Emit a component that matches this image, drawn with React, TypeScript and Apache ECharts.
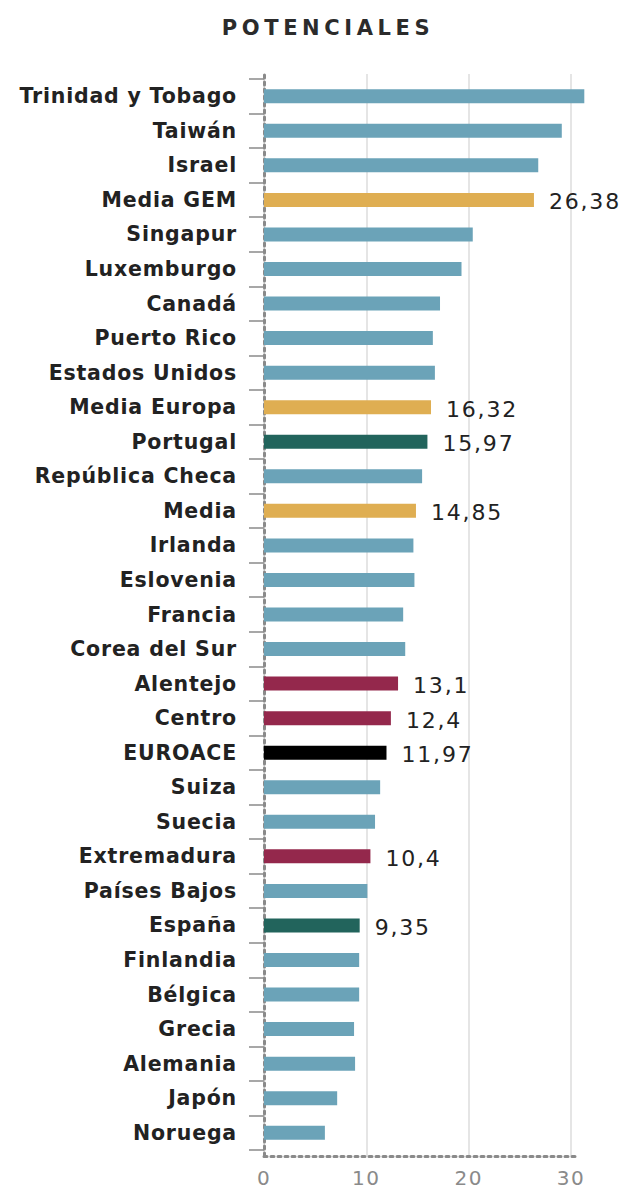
import React, { useEffect, useRef } from "react";
import * as echarts from "echarts";

const title = "POTENCIALES";
const categories = [
  "Trinidad y Tobago", "Taiwán", "Israel", "Media GEM", "Singapur", "Luxemburgo",
  "Canadá", "Puerto Rico", "Estados Unidos", "Media Europa", "Portugal",
  "República Checa", "Media", "Irlanda", "Eslovenia", "Francia", "Corea del Sur",
  "Alentejo", "Centro", "EUROACE", "Suiza", "Suecia", "Extremadura", "Países Bajos",
  "España", "Finlandia", "Bélgica", "Grecia", "Alemania", "Japón", "Noruega",
];
const values = [
  31.3, 29.1, 26.8, 26.38, 20.4, 19.3, 17.2, 16.5, 16.7, 16.32, 15.97, 15.45,
  14.85, 14.6, 14.7, 13.6, 13.8, 13.1, 12.4, 11.97, 11.35, 10.85, 10.4, 10.1,
  9.35, 9.3, 9.3, 8.8, 8.9, 7.15, 5.95,
];
const groups = [
  "pais", "pais", "pais", "media", "pais", "pais", "pais", "pais", "pais", "media",
  "nacion", "pais", "media", "pais", "pais", "pais", "pais", "region", "region",
  "euroace", "pais", "pais", "region", "pais", "nacion", "pais", "pais", "pais",
  "pais", "pais", "pais",
];
const labeledCategories = [
  "Media GEM", "Media Europa", "Portugal", "Media", "Alentejo", "Centro",
  "EUROACE", "Extremadura", "España",
];
const xMin = 0;
const xMax = 30;
const xInterval = 10;

const groupColors: Record<string, string> = {
  pais: "#6ba3b8",
  media: "#dfae52",
  nacion: "#22645c",
  region: "#94284c",
  euroace: "#000000",
};

const FONT = "'DejaVu Sans', 'Noto Sans', sans-serif";

export default function App() {
  const ref = useRef<HTMLDivElement>(null);
  useEffect(() => {
    if (!ref.current) return;
    const chart = echarts.init(ref.current, null, { renderer: "svg" });
    const data = categories.map((c, i) => ({
      value: values[i],
      itemStyle: { color: groupColors[groups[i]] },
      label: { show: labeledCategories.includes(c) },
    }));
    const dotted = { color: "#8a8a8a", width: 3, type: [3, 4] as any };
    chart.setOption({
      animation: false,
      title: {
        text: title,
        left: 323,
        textAlign: "center",
        top: 12,
        textStyle: { fontFamily: FONT, fontSize: 21.02, fontWeight: "bold", color: "#2b2b2b" },
      },
      grid: [
        { left: 264, top: 79, width: 307, height: 1071 },
        { left: 264, top: 74, width: 307, height: 1082 },
        { left: 264, top: 74, width: 314, height: 1082 },
      ],
      xAxis: [
        { gridIndex: 0, type: "value", min: xMin, max: xMax, show: false },
        {
          gridIndex: 1, type: "value", min: xMin, max: xMax, interval: xInterval,
          axisLine: { show: false }, axisTick: { show: false },
          splitLine: { show: true, lineStyle: { color: "#dcdcdc", width: 1.5 } },
          axisLabel: { color: "#8a8a8a", fontSize: 20.04, fontFamily: FONT, margin: 12 },
        },
        {
          gridIndex: 2, type: "value", min: 0, max: 1,
          axisLine: { show: true, lineStyle: dotted },
          axisTick: { show: false }, axisLabel: { show: false }, splitLine: { show: false },
        },
      ],
      yAxis: [
        {
          gridIndex: 0, type: "category", data: categories, inverse: true, offset: 6,
          axisLine: { show: false },
          axisTick: { show: true, length: 15, lineStyle: { color: "#8a8a8a", width: 1.5 } },
          axisLabel: {
            color: "#222", fontSize: 20.51, fontWeight: "bold", fontFamily: FONT, margin: 21,
          },
        },
        {
          gridIndex: 1, type: "value", min: 0, max: 1,
          axisLine: { show: true, lineStyle: dotted },
          axisTick: { show: false }, axisLabel: { show: false }, splitLine: { show: false },
        },
        { gridIndex: 2, type: "value", show: false },
      ],
      series: [
        {
          type: "bar",
          xAxisIndex: 0,
          yAxisIndex: 0,
          barWidth: 14,
          clip: false,
          data,
          label: {
            position: "right",
            distance: 15,
            offset: [0, 2],
            color: "#222",
            fontSize: 22.03,
            fontWeight: 500,
            fontFamily: FONT,
            formatter: (p: any) => String(p.value).replace(".", ","),
          },
        },
      ],
    });
    return () => chart.dispose();
  }, []);
  return (
    <>
      <style>{`
        #chartroot text[style*="21.02px"]{letter-spacing:4.6px}
        #chartroot text[style*="20.51px"]{letter-spacing:0.8px}
        #chartroot text[style*="22.03px"]{letter-spacing:1.8px}
        #chartroot text[style*="20.04px"]{letter-spacing:1.5px}
      `}</style>
      <div
        id="chartroot"
        ref={ref}
        style={{ position: "absolute", left: 0, top: 0, width: 630, height: 1190 }}
      />
    </>
  );
}
